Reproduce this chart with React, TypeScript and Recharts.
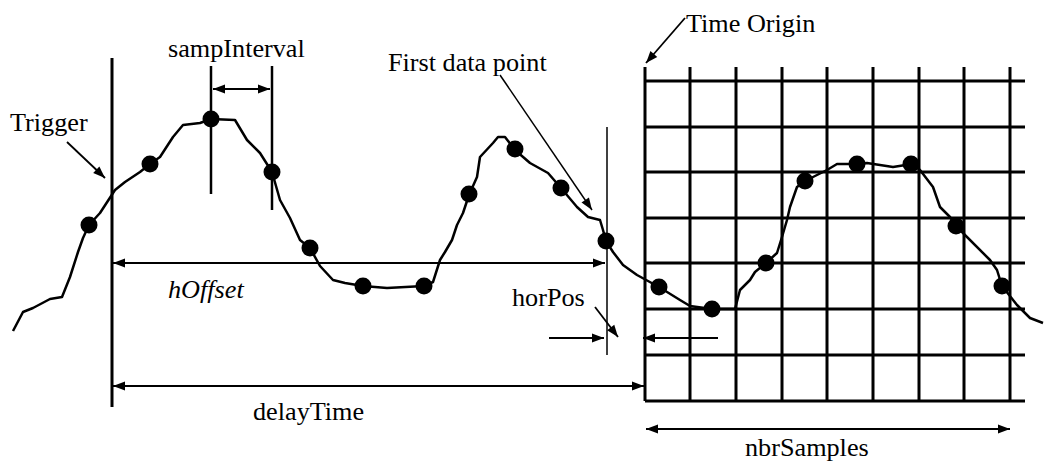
import React from 'react';
import { ComposedChart, Line, Scatter, XAxis, YAxis, ReferenceLine, ReferenceDot } from 'recharts';

// waveform trace (time -> level, level counted downward)
const traceTime = [13, 23, 33, 50, 62, 70, 78, 83, 89, 100, 115, 125, 140, 150, 160, 173, 183, 200, 211, 235, 247, 260, 272, 280, 290, 300, 310, 320, 333, 345, 363, 387, 424, 433, 440, 445, 452, 457, 463, 469, 477, 480, 493, 498, 505, 515, 530, 548, 561, 577, 588, 600, 603, 606, 613, 623, 637, 659, 680, 690, 712, 735, 740, 750, 755, 766, 777, 782, 787, 790, 797, 805, 827, 837, 857, 867, 893, 912, 920, 933, 940, 950, 956, 990, 997, 1002, 1017, 1030, 1043];
const traceLevel = [331, 312, 308, 299, 297, 277, 252, 238, 225, 213, 190, 182, 172, 164, 157, 137, 125, 123, 119, 120, 140, 153, 172, 200, 218, 240, 248, 266, 280, 283, 286, 288, 286, 282, 260, 252, 240, 225, 213, 195, 177, 157, 143, 137, 137, 150, 163, 173, 188, 207, 217, 220, 230, 241, 252, 265, 275, 287, 300, 306, 309, 309, 290, 280, 272, 263, 253, 237, 220, 207, 187, 181, 170, 164, 164, 163, 167, 164, 170, 187, 207, 217, 226, 260, 270, 286, 305, 318, 323];

// sampled points
const sampleTime = [89, 150, 211, 272, 310, 363, 424, 469, 515, 561, 606, 659, 712, 766, 805, 857, 911, 956, 1002];
const sampleLevel = [225, 164, 119, 172, 248, 286, 286, 194, 149, 188, 241, 287, 309, 263, 181, 164, 164, 226, 286];

// acquisition grid
const gridCols = [645, 690, 736, 782, 827, 873, 919, 964, 1010];
const gridRows = [81, 127, 172, 218, 263, 309, 355, 401];

const trace = traceTime.map((t, i) => ({ time: t, level: traceLevel[i] }));
const samples = sampleTime.map((t, i) => ({ time: t, level: sampleLevel[i] }));

type Seg = { a: [number, number]; b: [number, number]; w: number; heads?: 'start' | 'end' | 'both' };

const markers: Seg[] = [
  { a: [112, 58], b: [112, 407], w: 3 },
  { a: [211, 66], b: [211, 194], w: 2.5 },
  { a: [272, 66], b: [272, 210], w: 2.5 },
  { a: [607, 127], b: [607, 355], w: 1.5 },
];

const arrows: Seg[] = [
  { a: [213, 89], b: [270, 89], w: 2, heads: 'both' },
  { a: [113, 263], b: [605, 263], w: 1.8, heads: 'both' },
  { a: [113, 386], b: [644, 386], w: 1.8, heads: 'both' },
  { a: [646, 429], b: [1010, 429], w: 2, heads: 'both' },
  { a: [549, 338], b: [604, 338], w: 1.8, heads: 'end' },
  { a: [718, 338], b: [643, 338], w: 1.8, heads: 'end' },
  { a: [595, 307], b: [618, 337], w: 1.8, heads: 'end' },
  { a: [67, 142], b: [105, 178], w: 1.8, heads: 'end' },
  { a: [500, 75], b: [592, 210], w: 1.5, heads: 'end' },
  { a: [685, 18], b: [646, 63], w: 1.8, heads: 'end' },
];

const labels = [
  { text: 'sampInterval', x: 168, y: 57, italic: false },
  { text: 'Trigger', x: 10, y: 131, italic: false },
  { text: 'First data point', x: 388, y: 71, italic: false },
  { text: 'Time Origin', x: 686, y: 32, italic: false },
  { text: 'hOffset', x: 168, y: 298, italic: true },
  { text: 'horPos', x: 512, y: 306, italic: false },
  { text: 'delayTime', x: 253, y: 420, italic: false },
  { text: 'nbrSamples', x: 745, y: 456, italic: false },
];

const head = (x: number, y: number, fx: number, fy: number, key: string) => {
  // tip at (x,y), pointing away from (fx,fy)
  const dx = x - fx;
  const dy = y - fy;
  const len = Math.hypot(dx, dy) || 1;
  const ux = dx / len;
  const uy = dy / len;
  const L = 12;
  const hw = 4.5;
  const bx = x - ux * L;
  const by = y - uy * L;
  const pts = `${x},${y} ${bx - uy * hw},${by + ux * hw} ${bx + uy * hw},${by - ux * hw}`;
  return <polygon key={key} points={pts} fill="#000" />;
};

const arrowShape = (heads?: 'start' | 'end' | 'both') => (p: any) => {
  const { x1, y1, x2, y2, strokeWidth } = p;
  return (
    <g>
      <line x1={x1} y1={y1} x2={x2} y2={y2} stroke="#000" strokeWidth={strokeWidth} />
      {(heads === 'end' || heads === 'both') && head(x2, y2, x1, y1, 'e')}
      {(heads === 'start' || heads === 'both') && head(x1, y1, x2, y2, 's')}
    </g>
  );
};

const dotShape = (p: any) => <circle cx={p.cx} cy={p.cy} r={8.5} fill="#000" />;

const font = "'Liberation Serif', 'Times New Roman', serif";

export default function App() {
  return (
    <div style={{ position: 'absolute', left: 0, top: 0, width: 1045, height: 462, background: '#fff', fontFamily: font }}>
      <ComposedChart width={1045} height={462} margin={{ top: 0, right: 0, bottom: 0, left: 0 }}>
        <XAxis type="number" dataKey="time" domain={[0, 1045]} hide height={0} allowDataOverflow />
        <YAxis type="number" dataKey="level" domain={[0, 462]} reversed hide width={0} allowDataOverflow />

        {gridRows.map((r) => (
          <ReferenceLine key={`r${r}`} segment={[{ x: 645, y: r }, { x: 1025, y: r }]} stroke="#000" strokeWidth={3} ifOverflow="visible" />
        ))}
        {gridCols.map((c) => (
          <ReferenceLine key={`c${c}`} segment={[{ x: c, y: 67 }, { x: c, y: 401 }]} stroke="#000" strokeWidth={3} ifOverflow="visible" />
        ))}
        {markers.map((m, i) => (
          <ReferenceLine key={`m${i}`} segment={[{ x: m.a[0], y: m.a[1] }, { x: m.b[0], y: m.b[1] }]} stroke="#000" strokeWidth={m.w} ifOverflow="visible" />
        ))}
        {arrows.map((m, i) => (
          <ReferenceLine
            key={`a${i}`}
            segment={[{ x: m.a[0], y: m.a[1] }, { x: m.b[0], y: m.b[1] }]}
            stroke="#000"
            strokeWidth={m.w}
            ifOverflow="visible"
            shape={arrowShape(m.heads)}
          />
        ))}

        <Line data={trace} dataKey="level" type="linear" stroke="#000" strokeWidth={2.5} strokeLinejoin="round" dot={false} activeDot={false} isAnimationActive={false} />
        <Scatter data={samples} dataKey="level" shape={dotShape} isAnimationActive={false} />

        {labels.map((l) => (
          <ReferenceDot
            key={l.text}
            x={l.x}
            y={l.y}
            r={0}
            ifOverflow="visible"
            shape={(p: any) => (
              <text
                x={0}
                y={0}
                transform={`translate(${p.cx},${p.cy}) scale(1.07,1)`}
                style={{ fontFamily: font, fontSize: 24.5, fontStyle: l.italic ? 'italic' : 'normal' }}
                fill="#000"
              >
                {l.text}
              </text>
            )}
          />
        ))}
      </ComposedChart>
    </div>
  );
}
